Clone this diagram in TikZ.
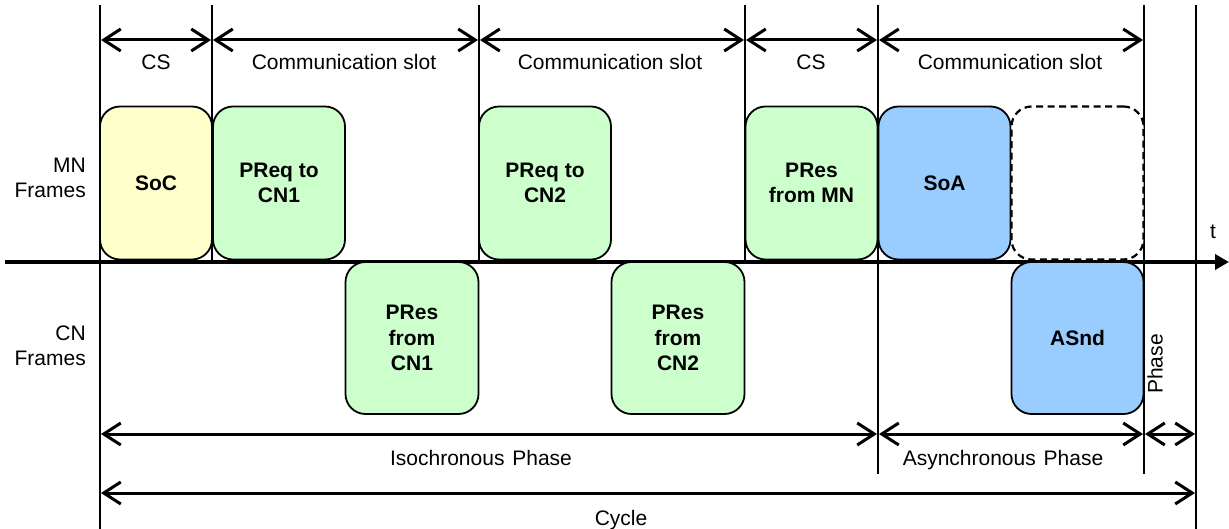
\documentclass[tikz,border=0pt]{standalone}
\usepackage{fontspec}
\setmainfont{Liberation Sans}
\usetikzlibrary{arrows.meta}
\begin{document}
\begin{tikzpicture}[x=1pt,y=-1pt,
 lbl/.style={font=\fontsize{21}{25}\selectfont, inner sep=0pt, align=center},
 frm/.style={draw, line width=1.8pt, rounded corners=20pt, minimum height=153pt, align=center,
   font=\fontsize{21}{25.5}\selectfont\bfseries, inner sep=0pt},
 vline/.style={line width=1.2pt},
 dim/.style={line width=3pt, {Straight Barb[length=17pt,width=22pt]}-{Straight Barb[length=17pt,width=22pt]}},
]
\useasboundingbox (0,0) rectangle (1229,529);
\definecolor{cyel}{HTML}{FFFFCC}
\definecolor{cgrn}{HTML}{CCFFCC}
\definecolor{cblu}{HTML}{99CCFF}

% vertical lines
\draw[vline] (100,5) -- (100,529);
\draw[vline] (212,5) -- (212,262);
\draw[vline] (479,5) -- (479,262);
\draw[vline] (745,5) -- (745,262);
\draw[vline] (878,5) -- (878,474);
\draw[vline] (1144,5) -- (1144,474);
\draw[vline] (1196,5) -- (1196,529);

% time axis
\coordinate (ax0) at (5,262);
\coordinate (ax1) at (1229,262);
\draw[line width=4.5pt, -{Triangle[length=14pt,width=15pt]}] (ax0) -- (ax1);
\node[lbl] (t) at (1213,232) {t};

% frames
\node[frm, fill=cyel, minimum width=112pt] (soc) at (156,183) {SoC};
\node[frm, fill=cgrn, minimum width=132pt] (preq1) at (279,183) {PReq to\\CN1};
\node[frm, fill=cgrn, minimum width=133pt, minimum height=152pt] (pres1) at (412,338) {PRes\\from\\CN1};
\node[frm, fill=cgrn, minimum width=132pt] (preq2) at (545,183) {PReq to\\CN2};
\node[frm, fill=cgrn, minimum width=133pt, minimum height=152pt] (pres2) at (678,338) {PRes\\from\\CN2};
\node[frm, fill=cgrn, minimum width=132pt] (presmn) at (811.5,183) {PRes\\from MN};
\node[frm, fill=cblu, minimum width=132pt] (soa) at (944.5,183) {SoA};
\node[frm, fill=white, line width=2.2pt, dash pattern=on 7pt off 4.5pt, minimum width=132pt] (empty) at (1077.5,183) {};
\node[frm, fill=cblu, minimum width=132pt, minimum height=152pt] (asnd) at (1077.5,338) {ASnd};

% row labels
\node[lbl, anchor=east, align=right] (mn) at (86,178) {MN\\Frames};
\node[lbl, anchor=east, align=right] (cn) at (86,346) {CN\\Frames};

% top dimension arrows
\coordinate (a0) at (101,40);  \coordinate (a1) at (211,40);
\coordinate (b0) at (213,40);  \coordinate (b1) at (478,40);
\coordinate (c0) at (480,40);  \coordinate (c1) at (744,40);
\coordinate (d0) at (746,40);  \coordinate (d1) at (877,40);
\coordinate (e0) at (879,40);  \coordinate (e1) at (1143,40);
\draw[dim] (a0) -- (a1);
\draw[dim] (b0) -- (b1);
\draw[dim] (c0) -- (c1);
\draw[dim] (d0) -- (d1);
\draw[dim] (e0) -- (e1);
\node[lbl, anchor=base] (l1) at (156,70) {CS};
\node[lbl, anchor=base] (l2) at (344,70) {Communication slot};
\node[lbl, anchor=base] (l3) at (610,70) {Communication slot};
\node[lbl, anchor=base] (l4) at (811,70) {CS};
\node[lbl, anchor=base] (l5) at (1010,70) {Communication slot};

% bottom dimension arrows
\coordinate (f0) at (101,434); \coordinate (f1) at (877,434);
\coordinate (g0) at (879,434); \coordinate (g1) at (1143,434);
\coordinate (h0) at (1145,434); \coordinate (h1) at (1195,434);
\coordinate (k0) at (101,493); \coordinate (k1) at (1195,493);
\draw[dim] (f0) -- (f1);
\draw[dim] (g0) -- (g1);
\draw[dim] (h0) -- (h1);
\draw[dim] (k0) -- (k1);
\node[lbl, anchor=base] (iso) at (481,465) {Isochronous\hspace{2pt} Phase};
\node[lbl, anchor=base] (asy) at (1003,465) {Asynchronous\hspace{2pt} Phase};
\node[lbl, rotate=90] (ph) at (1155,364) {Phase};
\node[lbl, anchor=base] (cyc) at (621,525) {Cycle};
\end{tikzpicture}
\end{document}
